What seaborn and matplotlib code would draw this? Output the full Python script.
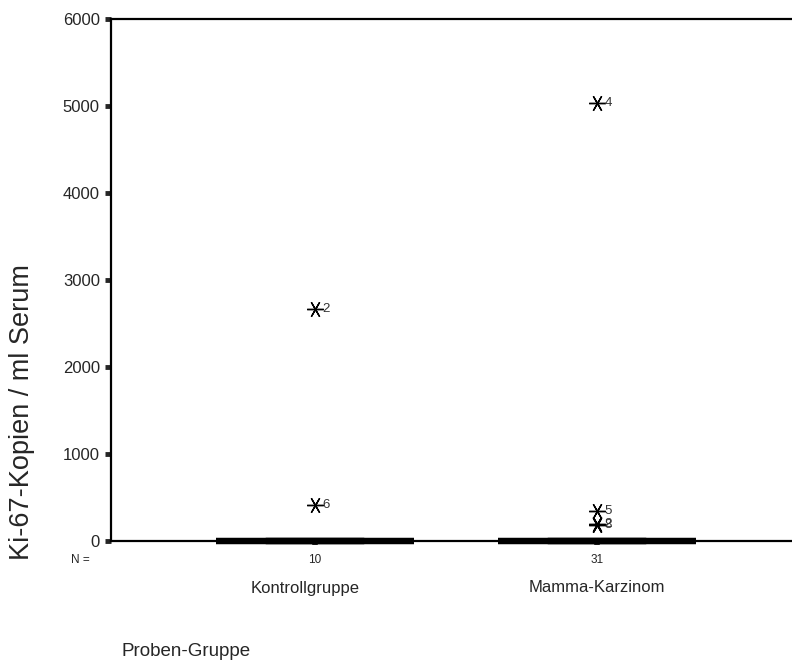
import numpy as np
import pandas as pd
import matplotlib
matplotlib.use("Agg")
import matplotlib.pyplot as plt
import matplotlib.transforms as mtransforms
import seaborn as sns

# Groups, sample counts and the non-zero (extreme) measurements with their case numbers
groups = ["Kontrollgruppe", "Mamma-Karzinom"]
n_counts = [10, 31]
ctrl_extremes = [2667, 414]
ctrl_cases = ["2", "6"]
mamma_extremes = [5034, 340, 200, 180]
mamma_cases = ["4", "5", "2", "8"]
y_ticks = [0, 1000, 2000, 3000, 4000, 5000, 6000]

extremes = [ctrl_extremes, mamma_extremes]
cases = [ctrl_cases, mamma_cases]

# all other samples measured zero copies
rows = []
for g, n, ext in zip(groups, n_counts, extremes):
    vals = list(ext) + [0] * (n - len(ext))
    rows += [(g, v) for v in vals]
df = pd.DataFrame(rows, columns=["Gruppe", "Kopien"])

sns.set_style("white")
plt.rcParams["font.family"] = ["Liberation Sans", "DejaVu Sans"]

fig = plt.figure(figsize=(7.92, 6.64), dpi=100)
ax = fig.add_axes([111 / 792, 1 - 541 / 664, 1 - 111 / 792, (541 - 19) / 664])

asterisk = (6, 2, 90)
sns.boxplot(
    data=df, x="Gruppe", y="Kopien", order=groups, ax=ax,
    whis=1.5, width=0.7, color="white", linecolor="black", linewidth=4.5,
    flierprops=dict(marker=asterisk, markersize=12, markeredgewidth=1.0,
                    markeredgecolor="black", markerfacecolor="black"),
)
# the collapsed boxes sit on the zero line; keep them fully visible
for art in list(ax.patches) + list(ax.lines):
    art.set_clip_on(False)
    art.set_zorder(3)

# case-number labels beside each extreme value
for i, (ext, lab) in enumerate(zip(extremes, cases)):
    for v, c in zip(ext, lab):
        ax.text(i + 0.027, v, c, fontsize=9.5, color="#333333",
                ha="left", va="center")

ax.set_xlim(-0.723, 1.691)
ax.set_ylim(0, 6000)
ax.set_yticks(y_ticks)
ax.set_yticklabels([str(t) for t in y_ticks], fontsize=12)
ax.set_xticks(range(len(groups)))
ax.set_xticklabels([""] * len(groups))

ax.tick_params(axis="y", direction="out", length=4, width=3.5, pad=4, left=True)
ax.tick_params(axis="x", direction="out", length=3, width=4, bottom=True)

for side in ["left", "top", "bottom"]:
    ax.spines[side].set_visible(True)
    ax.spines[side].set_linewidth(1.6)
    ax.spines[side].set_color("black")
ax.spines["right"].set_visible(False)

ax.set_xlabel("")
ax.set_ylabel("")

# N row and group names below the axis
trans = mtransforms.blended_transform_factory(ax.transData, fig.transFigure)
name_shift = [-0.035, 0.0]
for i, (g, n) in enumerate(zip(groups, n_counts)):
    ax.text(i, 1 - 560 / 664, str(n), transform=trans, fontsize=8.5,
            ha="center", va="center")
    ax.text(i + name_shift[i], 1 - 588 / 664, g, transform=trans, fontsize=12,
            ha="center", va="center")
fig.text(80 / 792, 1 - 560 / 664, "N =", fontsize=8.5, ha="center", va="center")

fig.text(121 / 792, 1 - 652 / 664, "Proben-Gruppe", fontsize=13.5,
         ha="left", va="center")
fig.text(22 / 792, 1 - 412 / 664, "Ki-67-Kopien / ml Serum", fontsize=19.5,
         rotation=90, ha="center", va="center")

fig.savefig("out.png", dpi=100)
